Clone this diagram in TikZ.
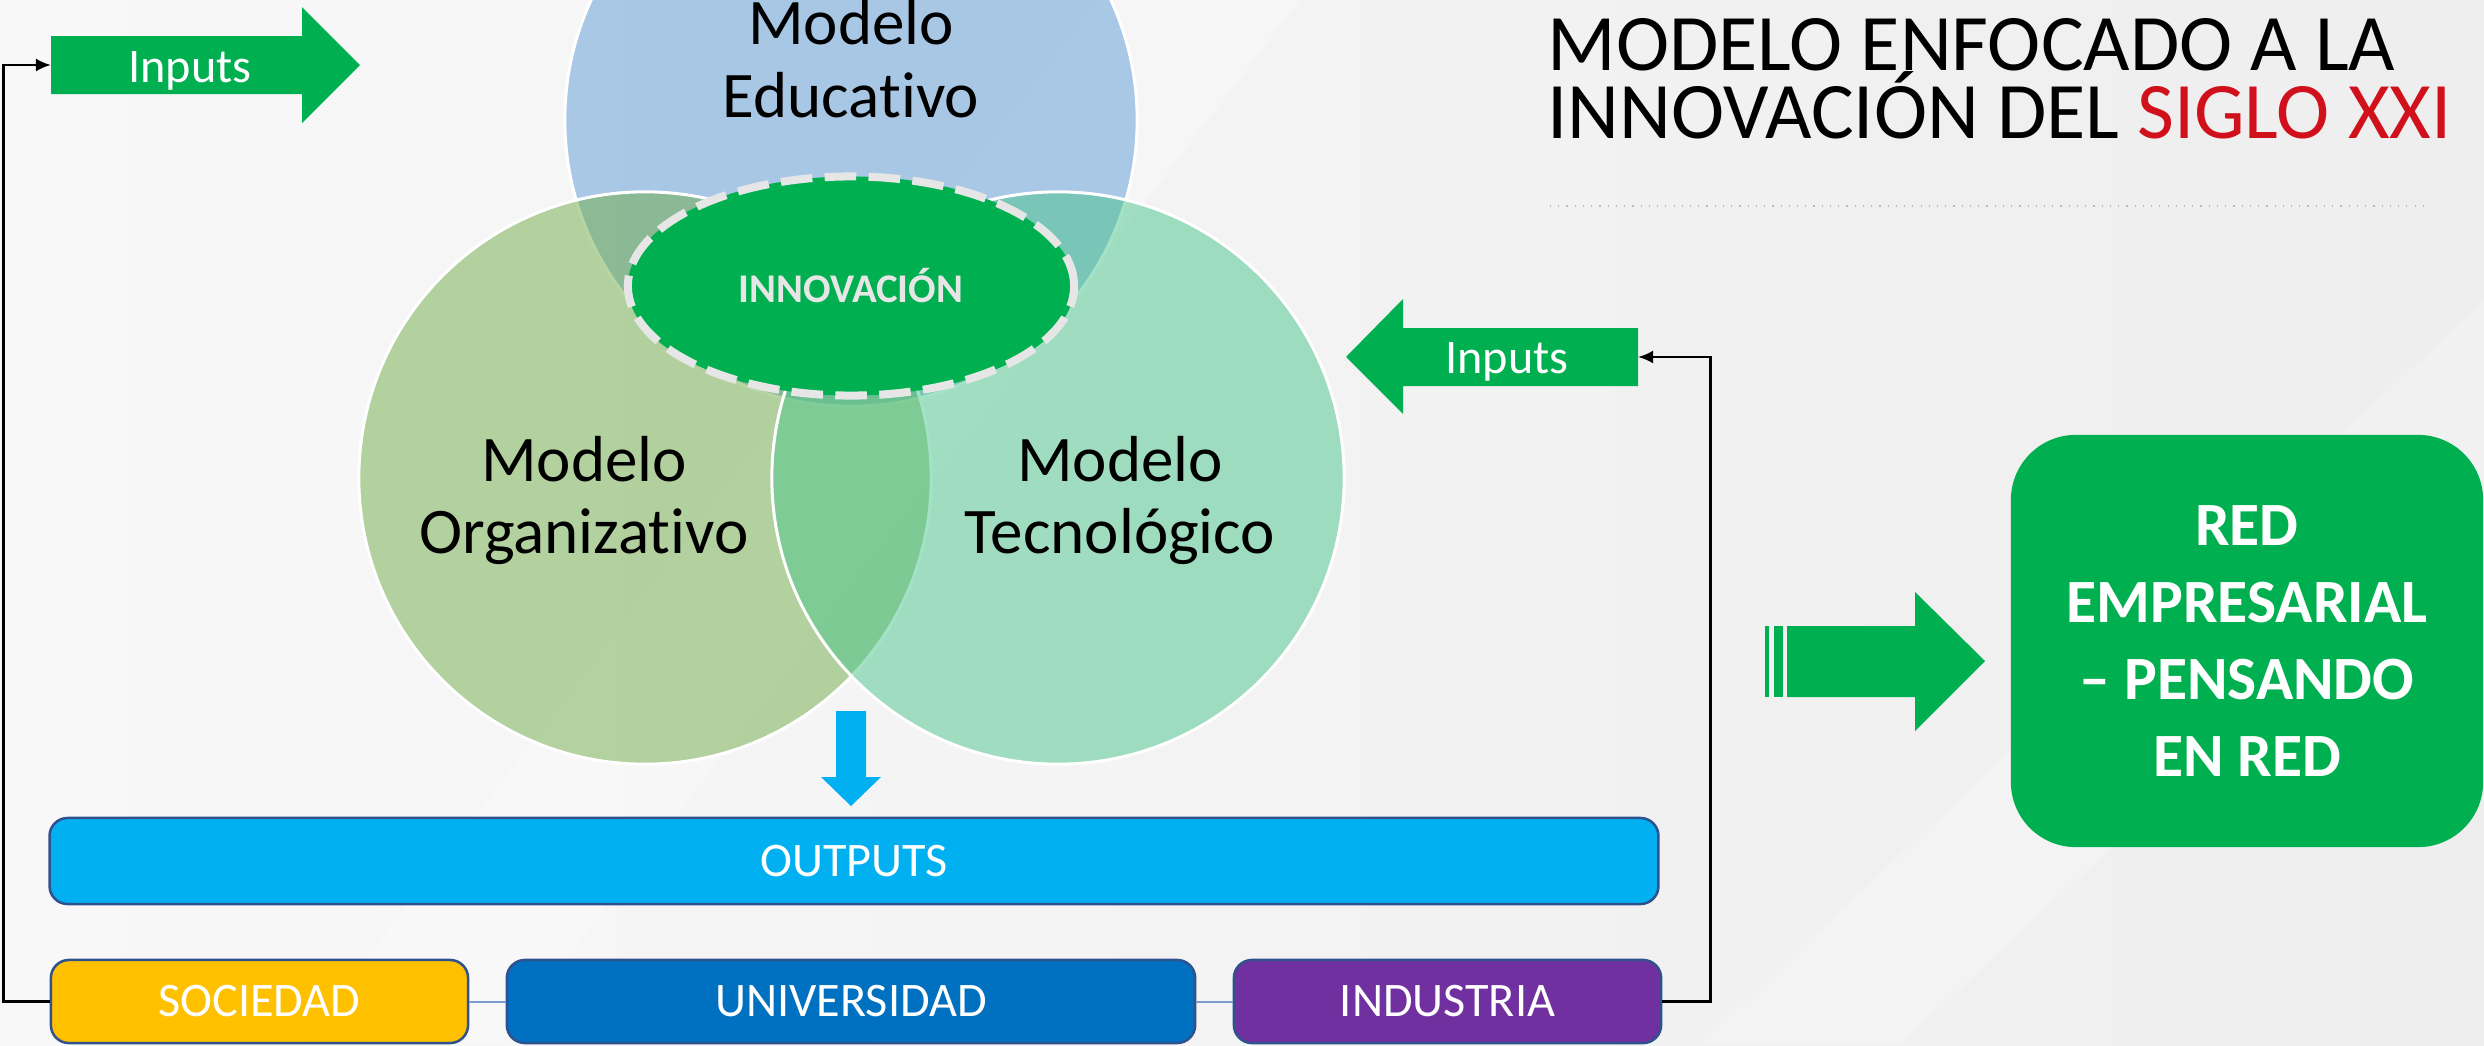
\documentclass[tikz,border=0pt]{standalone}
\usepackage{fontspec}
\setmainfont{Carlito}[RawFeature={-liga,-clig,-calt,-dlig}]
\usetikzlibrary{arrows.meta,shapes.geometric}
\definecolor{grn}{HTML}{00B050}
\definecolor{cyanb}{HTML}{00B0F0}
\definecolor{socc}{HTML}{FFC000}
\definecolor{unic}{HTML}{0070C0}
\definecolor{indc}{HTML}{7030A0}
\definecolor{bord}{HTML}{2F528F}
\definecolor{linkc}{HTML}{7F9BD0}
\definecolor{bgA}{HTML}{F8F8F8}
\definecolor{bgB}{HTML}{EEEEEE}
\definecolor{cTop}{RGB}{91,155,213}
\definecolor{cLeft}{RGB}{112,173,71}
\definecolor{cRight}{RGB}{75,198,142}
\definecolor{ringc}{HTML}{E7E6E6}
\definecolor{titred}{HTML}{D0111C}
\begin{document}
\begin{tikzpicture}[x=0.01cm,y=-0.01cm,
  box/.style={draw=bord, line width=0.025cm, rounded corners=0.18cm, text=white,
    font=\fontsize{13.7}{16}\selectfont, inner sep=0pt},
  conn/.style={draw=black, line width=0.027cm, -{Latex[length=0.15cm,width=0.13cm]}},
  link/.style={draw=linkc, line width=0.02cm},
  circ/.style={circle, minimum size=5.72cm, inner sep=0pt, fill opacity=0.5, draw=white, line width=0.03cm},
  ctext/.style={font=\fontsize{18.5}{22}\selectfont, anchor=base, inner sep=0pt},
  intext/.style={text=white, font=\fontsize{13.7}{16}\selectfont, inner sep=0pt, anchor=base},
  ttext/.style={anchor=base west, inner sep=0pt, font=\fontsize{22.8}{22.8}\selectfont}
]
\path[use as bounding box] (0,0) rectangle (2484,1045);
\clip (0,0) rectangle (2484,1045);
\shade[shading=axis, shading angle=135, left color=bgA, right color=bgB] (0,0) rectangle (2484,1045);
\fill[white, opacity=0.25] (300,1045) -- (1100,0) -- (1300,0) -- (500,1045) -- cycle;
\fill[white, opacity=0.2] (1700,1045) -- (2484,300) -- (2484,500) -- (1900,1045) -- cycle;

% Venn circles
\node[circ, fill=cTop] (ctop) at (851,120) {};
\node[circ, fill=cLeft] (cleft) at (645,478) {};
\node[circ, fill=cRight] (cright) at (1058,478) {};

% Innovation ellipse
\node[ellipse, minimum width=4.46cm, minimum height=2.19cm, fill=grn, draw=ringc,
  line width=0.08cm, dash pattern=on 9pt off 3.5pt, text=ringc,
  font=\bfseries\fontsize{11.6}{14}\selectfont] (innov) at (851,286) {INNOVACIÓN};

% circle texts
\node[ctext] (te1) at (851,44) {Modelo};
\node[ctext] (te2) at (851,117) {Educativo};
\node[ctext] (tl1) at (584,481) {Modelo};
\node[ctext] (tl2) at (584,553) {Organizativo};
\node[ctext] (tr1) at (1120,481) {Modelo};
\node[ctext] (tr2) at (1120,553) {Tecnológico};

% down arrow
\fill[cyanb] (836,711) -- (866,711) -- (866,777) -- (881,777) -- (851,806) -- (821,777) -- (836,777) -- cycle;

% boxes
\node[box, fill=cyanb, minimum width=16.08cm, minimum height=0.86cm] (out) at (854,861) {OUTPUTS};
\node[box, fill=socc, minimum width=4.17cm, minimum height=0.83cm] (soc) at (259.5,1001.5) {SOCIEDAD};
\node[box, fill=unic, minimum width=6.88cm, minimum height=0.83cm] (uni) at (851,1001.5) {UNIVERSIDAD};
\node[box, fill=indc, minimum width=4.27cm, minimum height=0.83cm] (ind) at (1447.5,1001.5) {INDUSTRIA};
\draw[link] (soc.east) -- (uni.west);
\draw[link] (uni.east) -- (ind.west);

% inputs arrows
\fill[grn] (51,36) -- (302,36) -- (302,7) -- (360,65) -- (302,123) -- (302,94) -- (51,94) -- cycle;
\coordinate (in1tail) at (51,65);
\node[intext] (in1) at (190,82) {Inputs};
\fill[grn] (1638,328) -- (1403,328) -- (1403,299) -- (1346,357) -- (1403,414) -- (1403,386) -- (1638,386) -- cycle;
\coordinate (in2tail) at (1638,357);
\node[intext] (in2) at (1507,373) {Inputs};

\draw[conn] (soc.west) -- ++(-46,0) |- (in1tail);
\draw[conn] (ind.east) -- ++(48,0) |- (in2tail);

% big right arrow
\fill[grn] (1765,626) rectangle (1769,697);
\fill[grn] (1774,626) rectangle (1783,697);
\fill[grn] (1787,626) -- (1915,626) -- (1915,592) -- (1985,661) -- (1915,731) -- (1915,697) -- (1787,697) -- cycle;

% RED box
\node[fill=grn, rounded corners=0.65cm, minimum width=4.72cm, minimum height=4.12cm,
  text=white, align=center, font=\bfseries\fontsize{17.5}{21.9}\selectfont] (red) at (2247,641)
  {RED\\EMPRESARIAL\\– PENSANDO\\EN RED};

% title
\node[ttext] (t1) at (1547,70) {MODELO ENFOCADO A LA};
\node[ttext] (t2) at (1547,138) {INNOVACIÓN DEL \textcolor{titred}{SIGLO XXI}};
\draw[gray!55, dotted, line width=0.012cm] (1550,206) -- (2423,206);
\end{tikzpicture}
\end{document}
